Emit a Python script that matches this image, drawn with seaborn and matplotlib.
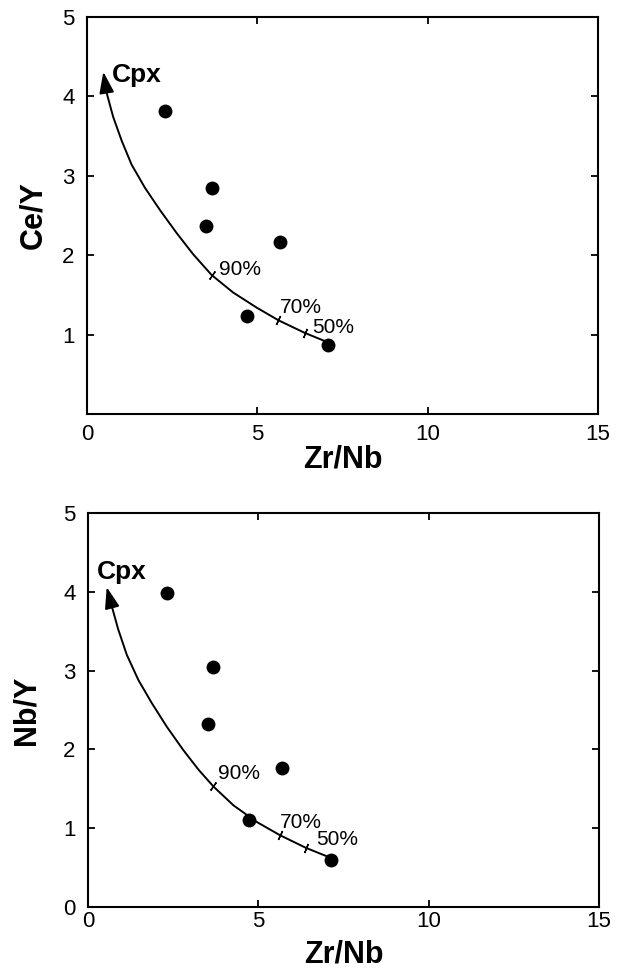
import matplotlib
matplotlib.use("Agg")
import matplotlib.pyplot as plt
import seaborn as sns
import pandas as pd

# sample ratios, upper panel (Ce/Y vs Zr/Nb)
zr_nb_top = [2.29, 3.66, 3.48, 5.66, 4.69, 7.08]
ce_y = [3.82, 2.84, 2.37, 2.16, 1.23, 0.87]

# sample ratios, lower panel (Nb/Y vs Zr/Nb)
zr_nb_bot = [2.31, 3.68, 3.51, 5.70, 4.72, 7.12]
nb_y = [3.99, 3.05, 2.32, 1.76, 1.10, 0.59]

# Cpx fractionation curve (starts at the arrow tip)
curve_top_x = [0.48, 0.58, 0.77, 1.02, 1.31, 1.70, 2.14, 2.63, 3.12, 3.66, 4.29, 4.98, 5.62, 6.40, 7.03]
curve_top_y = [4.31, 4.04, 3.74, 3.44, 3.14, 2.85, 2.57, 2.28, 2.01, 1.75, 1.53, 1.34, 1.18, 1.02, 0.91]
curve_bot_x = [0.55, 0.69, 0.89, 1.14, 1.48, 1.87, 2.31, 2.80, 3.25, 3.68, 4.27, 4.95, 5.64, 6.40, 7.03]
curve_bot_y = [4.06, 3.83, 3.52, 3.20, 2.88, 2.59, 2.29, 1.99, 1.74, 1.53, 1.29, 1.08, 0.91, 0.75, 0.64]

# melt fraction marks on the curves
pct_labels = ["90%", "70%", "50%"]
pct_top_x = [3.66, 5.62, 6.40]
pct_top_y = [1.75, 1.18, 1.02]
pct_bot_x = [3.68, 5.64, 6.40]
pct_bot_y = [1.53, 0.91, 0.75]

x_ticks = [0, 5, 10, 15]
y_ticks_top = [1, 2, 3, 4, 5]
y_ticks_bot = [0, 1, 2, 3, 4, 5]

sns.set_style("ticks")
plt.rcParams['font.family'] = ['Liberation Sans', 'DejaVu Sans']
plt.rcParams['axes.linewidth'] = 1.5
plt.rcParams['text.color'] = 'black'
plt.rcParams['axes.labelcolor'] = 'black'
plt.rcParams['xtick.color'] = 'black'
plt.rcParams['ytick.color'] = 'black'

fig = plt.figure(figsize=(6.2, 9.72), dpi=100)
ax_top = fig.add_axes([0.1403, 0.5741, 0.8242, 0.4084])
ax_bot = fig.add_axes([0.1419, 0.0669, 0.8242, 0.4053])


def draw_panel(ax, xs, ys, cx, cy, px, py, yticks, ylabel, xpad, cpx_off, label_offsets):
    df = pd.DataFrame({'x': xs, 'y': ys})
    sns.scatterplot(data=df, x='x', y='y', ax=ax, s=100, color='black',
                    edgecolor='black', linewidth=0, zorder=3)

    curve = pd.DataFrame({'x': cx[1:], 'y': cy[1:]})
    sns.lineplot(data=curve, x='x', y='y', ax=ax, sort=False, color='black',
                 linewidth=1.4, estimator=None, zorder=2)
    # arrow head at the Cpx end
    ax.annotate('', xy=(cx[0], cy[0]), xytext=(cx[1], cy[1]),
                arrowprops=dict(arrowstyle='-|>,head_length=1.3,head_width=0.45',
                                color='black', lw=1.4, shrinkA=0, shrinkB=0))
    ax.annotate('Cpx', xy=(cx[0], cy[0]), xytext=cpx_off, textcoords='offset points',
                fontsize=19, fontweight='bold', ha='left', va='center')

    # little cross ticks on the curve
    for x, y, ang in zip(px, py, [-35, -25, -22]):
        ax.plot([x], [y], marker=(2, 2, ang), markersize=7, color='black',
                markeredgewidth=1.0, zorder=4)
    for x, y, lab, off in zip(px, py, pct_labels, label_offsets):
        ax.annotate(lab, xy=(x, y), xytext=off, textcoords='offset points',
                    fontsize=15, ha='left', va='center',
                    family=['Liberation Sans Narrow', 'Liberation Sans'])

    ax.set_xlim(0, 15)
    ax.set_ylim(0, 5)
    ax.set_xticks(x_ticks)
    ax.set_yticks(yticks)
    ax.tick_params(direction='in', length=5, width=1.3, labelsize=16,
                   top=True, right=True)
    ax.tick_params(axis='x', pad=xpad)
    ax.tick_params(axis='y', pad=9)
    ax.set_ylabel(ylabel, fontsize=22, fontweight='bold')
    for sp in ax.spines.values():
        sp.set_linewidth(1.5)
        sp.set_color('black')


draw_panel(ax_top, zr_nb_top, ce_y, curve_top_x, curve_top_y, pct_top_x, pct_top_y,
           y_ticks_top, 'Ce/Y', 7, (6, -2), [(5, 4), (1, 9), (5, 4)])
ax_top.set_xlabel('Zr/Nb', fontsize=22, fontweight='bold', labelpad=0)
ax_top.yaxis.set_label_coords(-0.075, 0.5)

draw_panel(ax_bot, zr_nb_bot, nb_y, curve_bot_x, curve_bot_y, pct_bot_x, pct_bot_y,
           y_ticks_bot, 'Nb/Y', 3, (-7, 11), [(3, 9), (0, 9), (7, 6)])
ax_bot.set_xlabel('Zr/Nb', fontsize=22, fontweight='bold', labelpad=5)
ax_bot.yaxis.set_label_coords(-0.09, 0.5)

fig.savefig('out.png', dpi=100)
